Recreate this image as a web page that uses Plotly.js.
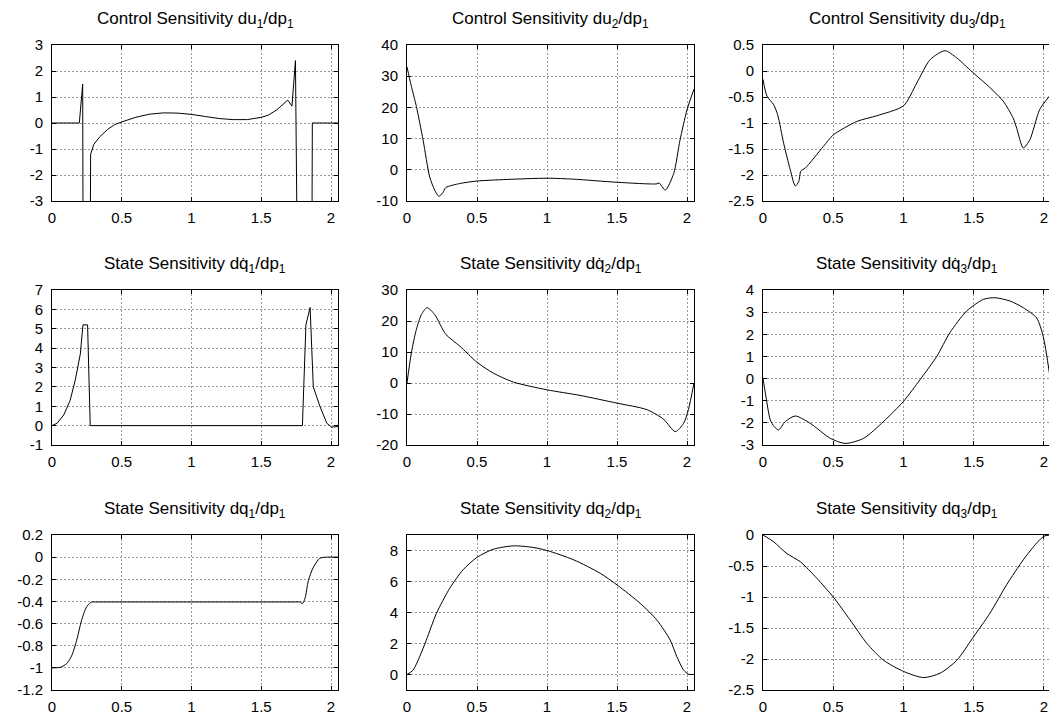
<!DOCTYPE html>
<html>
<head>
<meta charset="utf-8">
<script src="https://cdn.plot.ly/plotly-3.0.1.min.js"></script>
<style>html,body{margin:0;padding:0;background:#fff}#chart{width:1049px;height:716px}</style>
</head>
<body>
<div id="chart"></div>
<script>
// ---- data ----
const titles = [
  "Control Sensitivity du<sub>1</sub>/dp<sub>1</sub>",
  "Control Sensitivity du<sub>2</sub>/dp<sub>1</sub>",
  "Control Sensitivity du<sub>3</sub>/dp<sub>1</sub>",
  "State Sensitivity dq\u0307<sub>1</sub>/dp<sub>1</sub>",
  "State Sensitivity dq\u0307<sub>2</sub>/dp<sub>1</sub>",
  "State Sensitivity dq\u0307<sub>3</sub>/dp<sub>1</sub>",
  "State Sensitivity dq<sub>1</sub>/dp<sub>1</sub>",
  "State Sensitivity dq<sub>2</sub>/dp<sub>1</sub>",
  "State Sensitivity dq<sub>3</sub>/dp<sub>1</sub>"
];

const xTickVals = [0, 0.5, 1, 1.5, 2];
const xTickText = ["0", "0.5", "1", "1.5", "2"];

// du1/dp1
const x1 = [0, 0.196, 0.22, 0.225, 0.27, 0.277, 0.30, 0.344, 0.40, 0.45, 0.50, 0.60, 0.70, 0.80, 0.90, 1.0, 1.10, 1.20, 1.30, 1.35, 1.40, 1.50, 1.55, 1.61, 1.66, 1.69, 1.72, 1.745, 1.766, 1.86, 1.866, 2.05];
const y1 = [0, 0, 1.5, -10, -10, -1.2, -0.82, -0.52, -0.24, -0.06, 0.04, 0.22, 0.34, 0.39, 0.38, 0.33, 0.25, 0.17, 0.13, 0.12, 0.13, 0.22, 0.3, 0.5, 0.72, 0.88, 0.65, 2.4, -10, -10, 0, 0];
// du2/dp1
const x2 = [0, 0.03, 0.067, 0.115, 0.162, 0.198, 0.227, 0.255, 0.277, 0.377, 0.5, 0.71, 1.0, 1.19, 1.5, 1.785, 1.80, 1.845, 1.905, 1.95, 2.0, 2.05];
const y2 = [33, 27, 20.3, 9.5, -2.3, -6.5, -8.5, -7.4, -5.7, -4.4, -3.6, -3.1, -2.7, -3.0, -4.0, -4.5, -4.2, -6.5, -1.2, 9.5, 19.2, 25.9];
// du3/dp1
const x3 = [0, 0.028, 0.076, 0.104, 0.147, 0.194, 0.23, 0.254, 0.27, 0.30, 0.43, 0.5, 0.668, 0.81, 1.0, 1.095, 1.19, 1.296, 1.38, 1.49, 1.616, 1.71, 1.78, 1.806, 1.853, 1.90, 1.97, 2.04];
const y3 = [-0.16, -0.48, -0.65, -0.84, -1.39, -1.9, -2.21, -2.13, -1.92, -1.87, -1.45, -1.23, -0.97, -0.86, -0.67, -0.23, 0.22, 0.39, 0.25, -0.02, -0.32, -0.58, -0.9, -1.1, -1.48, -1.32, -0.74, -0.48];
// dq1dot/dp1
const x4 = [0, 0.036, 0.084, 0.13, 0.167, 0.203, 0.222, 0.255, 0.274, 1.795, 1.82, 1.85, 1.873, 1.92, 1.97, 2.005, 2.05];
const y4 = [0, 0.12, 0.55, 1.3, 2.36, 3.7, 5.2, 5.2, 0, 0, 5.2, 6.1, 2.0, 1.0, 0.12, -0.08, -0.05];
// dq2dot/dp1
const x5 = [0, 0.031, 0.067, 0.103, 0.143, 0.198, 0.277, 0.377, 0.5, 0.616, 0.76, 1.0, 1.236, 1.5, 1.714, 1.833, 1.916, 1.976, 2.01, 2.05];
const y5 = [0, 9.7, 17.3, 22.1, 24.3, 22.1, 15.7, 11.9, 6.7, 3.2, 0.3, -2.2, -4.0, -6.5, -8.6, -11.7, -15.7, -13, -8.6, 0];
// dq3dot/dp1
const x6 = [0, 0.017, 0.052, 0.08, 0.111, 0.159, 0.23, 0.336, 0.479, 0.585, 0.716, 0.858, 1.0, 1.118, 1.237, 1.33, 1.45, 1.57, 1.652, 1.76, 1.853, 1.948, 1.995, 2.04];
const y6 = [0, -0.66, -1.87, -2.17, -2.32, -1.94, -1.69, -2.02, -2.7, -2.93, -2.7, -1.94, -1.03, -0.05, 1.0, 2.07, 3.05, 3.58, 3.65, 3.5, 3.2, 2.74, 1.9, 0.2];
// dq1/dp1
const x7 = [0, 0.06, 0.107, 0.143, 0.177, 0.212, 0.243, 0.26, 0.284, 0.31, 1.0, 1.76, 1.778, 1.795, 1.814, 1.838, 1.874, 1.92, 1.97, 2.0, 2.05];
const y7 = [-1, -0.995, -0.96, -0.885, -0.75, -0.57, -0.46, -0.43, -0.405, -0.405, -0.405, -0.405, -0.405, -0.42, -0.37, -0.21, -0.09, -0.01, 0, 0, 0];
// dq2/dp1
const x8 = [0, 0.043, 0.09, 0.138, 0.21, 0.305, 0.4, 0.5, 0.616, 0.76, 0.9, 1.0, 1.19, 1.38, 1.5, 1.666, 1.785, 1.88, 1.928, 1.976, 2.01, 2.05];
const y8 = [0, 0.28, 1.14, 2.22, 3.94, 5.56, 6.75, 7.56, 8.08, 8.3, 8.2, 8.0, 7.4, 6.53, 5.78, 4.59, 3.51, 2.22, 1.14, 0.28, 0.02, 0];
// dq3/dp1
const x9 = [0, 0.076, 0.17, 0.265, 0.384, 0.5, 0.62, 0.74, 0.858, 1.0, 1.142, 1.26, 1.38, 1.49, 1.616, 1.735, 1.853, 1.948, 2.0, 2.04];
const y9 = [0, -0.11, -0.3, -0.43, -0.7, -1.0, -1.37, -1.75, -2.02, -2.2, -2.3, -2.23, -2.02, -1.67, -1.26, -0.8, -0.4, -0.13, -0.02, 0];

const yRanges = [[-3, 3], [-10, 40], [-2.5, 0.5], [-1, 7], [-20, 30], [-3, 4], [-1.2, 0.2], [-1, 9], [-2.5, 0]];
const yTickVals = [
  [-3, -2, -1, 0, 1, 2, 3],
  [-10, 0, 10, 20, 30, 40],
  [-2.5, -2, -1.5, -1, -0.5, 0, 0.5],
  [-1, 0, 1, 2, 3, 4, 5, 6, 7],
  [-20, -10, 0, 10, 20, 30],
  [-3, -2, -1, 0, 1, 2, 3, 4],
  [-1.2, -1, -0.8, -0.6, -0.4, -0.2, 0, 0.2],
  [0, 2, 4, 6, 8],
  [-2.5, -2, -1.5, -1, -0.5, 0]
];
const yTickText = [
  ["-3", "-2", "-1", "0", "1", "2", "3"],
  ["-10", "0", "10", "20", "30", "40"],
  ["-2.5", "-2", "-1.5", "-1", "-0.5", "0", "0.5"],
  ["-1", "0", "1", "2", "3", "4", "5", "6", "7"],
  ["-20", "-10", "0", "10", "20", "30"],
  ["-3", "-2", "-1", "0", "1", "2", "3", "4"],
  ["-1.2", "-1", "-0.8", "-0.6", "-0.4", "-0.2", "0", "0.2"],
  ["0", "2", "4", "6", "8"],
  ["-2.5", "-2", "-1.5", "-1", "-0.5", "0"]
];

const xs = [x1, x2, x3, x4, x5, x6, x7, x8, x9];
const ys = [y1, y2, y3, y4, y5, y6, y7, y8, y9];
const shapes = ["linear", "spline", "spline", "linear", "spline", "spline", "spline", "spline", "spline"];

// ---- layout geometry (pixels) ----
const W = 1049, H = 716;
const colPx = [[52, 338], [407, 694], [763, 1049]];
const colXMax = [2.05, 2.05, 2.036];
const rowPx = [[45, 201], [290, 445], [535, 690]];
const titleY = [20, 265, 510];

const font = "Liberation Sans, Arial, Helvetica, sans-serif";
const traces = [];
const layout = {
  width: W, height: H,
  margin: {l: 0, r: 0, t: 0, b: 0},
  paper_bgcolor: "#fff", plot_bgcolor: "#fff",
  showlegend: false,
  font: {family: font, size: 15, color: "#000"},
  annotations: []
};

for (let i = 0; i < 9; i++) {
  const r = Math.floor(i / 3), c = i % 3;
  const n = i + 1;
  const xa = "xaxis" + (n === 1 ? "" : n), ya = "yaxis" + (n === 1 ? "" : n);
  const xr = "x" + (n === 1 ? "" : n), yr = "y" + (n === 1 ? "" : n);
  traces.push({
    x: xs[i], y: ys[i], xaxis: xr, yaxis: yr,
    type: "scatter", mode: "lines",
    line: {color: "#000", width: 1, shape: shapes[i], smoothing: 0.7},
    hoverinfo: "skip"
  });
  const common = {
    showline: true, linecolor: "#000", linewidth: 1,
    showgrid: true, gridcolor: "#9a9a9a", griddash: "2px,2px", gridwidth: 1,
    zeroline: false, ticks: "inside", ticklen: 4, tickcolor: "#000",
    tickfont: {family: font, size: 15, color: "#000"},
    tickmode: "array", fixedrange: true
  };
  layout[xa] = Object.assign({}, common, {
    domain: [colPx[c][0] / W, colPx[c][1] / W],
    range: [0, colXMax[c]],
    anchor: yr, mirror: "allticks",
    tickvals: xTickVals, ticktext: xTickText,
    ticklabelstandoff: 3
  });
  layout[ya] = Object.assign({}, common, {
    domain: [1 - rowPx[r][1] / H, 1 - rowPx[r][0] / H],
    range: yRanges[i],
    anchor: xr, mirror: c === 2 ? false : "allticks",
    tickvals: yTickVals[i], ticktext: yTickText[i],
    ticklabelstandoff: 5
  });
  layout.annotations.push({
    text: titles[i], xref: "paper", yref: "paper",
    x: (colPx[c][0] + (c === 2 ? 1051 : colPx[c][1])) / 2 / W,
    y: 1 - titleY[r] / H, xanchor: "center", yanchor: "middle",
    showarrow: false, font: {family: font, size: 17, color: "#000"}
  });
}

Plotly.newPlot("chart", traces, layout, {staticPlot: true, displayModeBar: false});
</script>
</body>
</html>
